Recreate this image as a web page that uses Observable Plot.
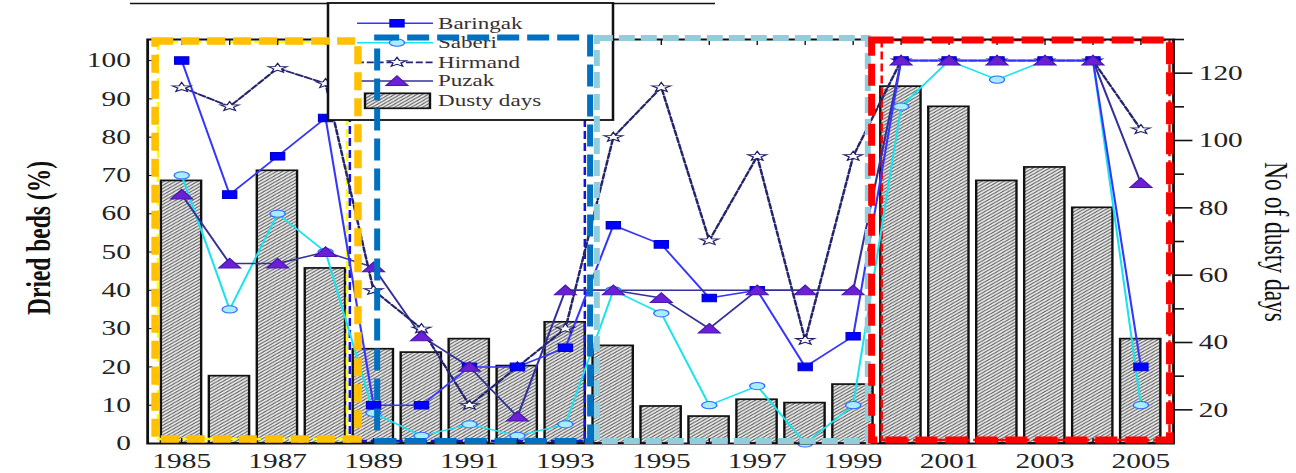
<!DOCTYPE html>
<html><head><meta charset="utf-8">
<script src="https://cdn.jsdelivr.net/npm/d3@7"></script>
<script src="https://cdn.jsdelivr.net/npm/@observablehq/plot@0.6"></script>
<style>
html,body{margin:0;padding:0;background:#fff;overflow:hidden}
#chart{width:1296px;height:473px;}
</style></head><body><div id="chart"></div>
<script>
// ---------- data ----------
const years     = [1985,1986,1987,1988,1989,1990,1991,1992,1993,1994,1995,1996,1997,1998,1999,2000,2001,2002,2003,2004,2005];
const baringak  = [100,65,75,85,10,10,20,20,25,57,52,38,40,20,28,100,100,100,100,100,20];
const saberi    = [70,35,60,50,8,2,5,2,5,40,34,10,15,0,10,88,100,95,100,100,10];
const hirmand   = [93,88,98,94,40,30,10,20,30,80,93,53,75,27,75,100,100,100,100,100,82];
const puzak     = [65,47,47,50,46,28,20,7,40,40,38,30,40,40,40,100,100,100,100,100,68];
const dustyDays = [88,30,91,62,38,37,41,33,46,39,21,18,23,22,27.5,116,110,88,92,80,41];
const puzakLevelYears  = [1993,1999];
const puzakLevelValues = [40,40];
const xTickLabels     = [1985,1987,1989,1991,1993,1995,1997,1999,2001,2003,2005];
const leftTicks       = [0,10,20,30,40,50,60,70,80,90,100];
const rightTicks      = [20,40,60,80,100,120];
const rightMinorTicks = [30,50,70,90,110,130];
const seriesNames = ["Baringak","Saberi","Hirmand","Puzak","Dusty days"];
const leftLabel  = "Dried beds (%)";
const rightLabel = "No of dusty days";
// highlighted periods (years)
const periodNames  = ["yellowThin","blueThin","redThin","orange","blue","lightBlue","red"];
const periodStarts = [1984.52,1988.52,1999.61,1984.46,1989.09,1993.67,1999.40];
const periodEnds   = [1988.46,1993.42,2005.61,1988.69,1993.53,1999.32,2005.61];

// ---------- layout / style ----------
const W = 926, H = 473, K = 1296 / W;
const leftMax = 105.5, rightMin = 10, rightMax = 130;
const toLeft = r => (r - rightMin) * leftMax / (rightMax - rightMin);
const fromLeft = l => l * (rightMax - rightMin) / leftMax + rightMin;
const SERIF = "'Liberation Serif', 'Times New Roman', serif";

const periodStyle = {
  yellowThin: {stroke:"#ffff00", sw:2.5, dash:"8,4", t:3, b:4, thin:true},
  blueThin:   {stroke:"#1010e0", sw:2.5, dash:"8,4", t:3, b:2, thin:true},
  redThin:    {stroke:"#ff0000", sw:2.5, dash:"8,4", t:1, b:3, thin:true},
  orange:     {stroke:"#ffc000", sw:7.5, dash:"18,8", t:2, b:4},
  blue:       {stroke:"#0070c0", sw:6, dash:"22,8", t:-1.5, b:2},
  lightBlue:  {stroke:"#92cddc", sw:6, dash:"16,6", t:-1, b:2},
  red:        {stroke:"#ff0000", sw:7, dash:"22,8", t:1, b:3}
};

// custom (stretched) symbols
const wideSquare = {draw(c){ c.moveTo(-5,-3.8); c.lineTo(5,-3.8); c.lineTo(5,3.8); c.lineTo(-5,3.8); c.closePath(); }};
const ellipse = {draw(c){ const rx=5.4, ry=3.6, m=0.5523;
  c.moveTo(rx,0); c.bezierCurveTo(rx,ry*m,rx*m,ry,0,ry); c.bezierCurveTo(-rx*m,ry,-rx,ry*m,-rx,0);
  c.bezierCurveTo(-rx,-ry*m,-rx*m,-ry,0,-ry); c.bezierCurveTo(rx*m,-ry,rx,-ry*m,rx,0); c.closePath(); }};
const triangle = {draw(c){ c.moveTo(0,-5.2); c.lineTo(7.8,4.4); c.lineTo(-7.8,4.4); c.closePath(); }};
const star = {draw(c){ for (let i=0;i<10;i++){ const a=-Math.PI/2+i*Math.PI/5, r=i%2?0.42:1;
  const x=r*Math.cos(a)*7, y=r*Math.sin(a)*5; i?c.lineTo(x,y):c.moveTo(x,y);} c.closePath(); }};

const series = [
  {name:seriesNames[0], values:baringak, line:"#3535ff", lw:1.5, dash:null, sym:wideSquare, fill:"#0000ff", sstroke:"#0000d0"},
  {name:seriesNames[1], values:saberi,   line:"#18e4f0", lw:1.5, dash:null, sym:ellipse, fill:"#a8ecff", sstroke:"#2f6bff"},
  {name:seriesNames[2], values:hirmand,  line:"#25256e", lw:1.8, dash:"5,2", sym:star, fill:"#ffffff", sstroke:"#1e1e66"},
  {name:seriesNames[3], values:puzak,    line:"#33309a", lw:1.5, dash:null, sym:triangle, fill:"#6b1fd6", sstroke:"#4a18a8"}
];
const rows = s => years.map((y,i)=>({year:y, value:s.values[i]}));
const bars = years.map((y,i)=>({year:y, days:dustyDays[i]}));
const periods = periodNames.map((n,i)=>({name:n, start:periodStarts[i], end:periodEnds[i]}));
const levelRows = puzakLevelYears.map((y,i)=>({year:y, value:puzakLevelValues[i]}));

const lineMarks = [];
for (const s of [series[1], series[3], series[2], series[0]]) {
  lineMarks.push(Plot.line(rows(s), {x:"year", y:"value", stroke:s.line, strokeWidth:s.lw, strokeDasharray:s.dash}));
}
lineMarks.push(Plot.line(levelRows, {x:"year", y:"value", stroke:series[3].line, strokeWidth:1.5}));
const dotMarks = [];
for (const s of [series[1], series[2], series[0], series[3]]) {
  dotMarks.push(Plot.dot(rows(s), {x:"year", y:"value", symbol:s.sym, fill:s.fill, stroke:s.sstroke, strokeWidth:1}));
}
// one rect mark per highlighted period; strokeOpacity tags them for screen-space strokes
const periodMarks = thin => periods.filter(p => !!periodStyle[p.name].thin === thin).map(p => {
  const st = periodStyle[p.name];
  return Plot.rect([p], {x1:"start", x2:"end", fill:"none", stroke: st.stroke, strokeWidth: st.sw,
    strokeDasharray: st.dash, strokeOpacity: thin ? 0.998 : 0.999, insetTop: st.t, insetBottom: st.b});
});

const plot = Plot.plot({
  width: W, height: H,
  marginLeft: 105, marginRight: 88, marginTop: 39, marginBottom: 30,
  x: {domain: [1984.29, 2005.68]},
  y: {domain: [0, leftMax]},
  style: {fontFamily: SERIF, fontSize: "21px", color: "#222", background: "white"},
  marks: [
    Plot.rect(bars, {x1: d => d.year - 0.42, x2: d => d.year + 0.42, y1: 0, y2: d => toLeft(d.days),
      fill: "#9a9a9b", stroke: "#111", strokeWidth: 1.7}),
    ...periodMarks(true),
    ...lineMarks,
    ...dotMarks,
    Plot.frame({stroke:"#111", strokeWidth: 2}),
    Plot.axisX({anchor:"bottom", ticks: xTickLabels, tickSize: 0, tickPadding: 10, tickFormat: d => String(d), label: null, fill:"#222"}),
    Plot.axisX({anchor:"bottom", ticks: years, tickSize: -5, fill: "none", stroke: "#111", label: null}),
    Plot.axisX({anchor:"top", ticks: years, tickSize: -5, fill: "none", stroke: "#111", label: null}),
    Plot.axisY({anchor:"left", ticks: leftTicks, tickSize: 0, tickPadding: 12, label: null, fill:"#222"}),
    Plot.axisY({anchor:"left", ticks: leftTicks, tickSize: -4, fill: "none", stroke: "#111", label: null}),
    Plot.axisY({anchor:"right", ticks: rightTicks.map(toLeft), tickSize: 13, tickPadding: 5, strokeWidth: 1.6,
      tickFormat: d => String(Math.round(fromLeft(d))), label: null, fill:"#222", stroke:"#111"}),
    Plot.axisY({anchor:"right", ticks: rightMinorTicks.map(toLeft), tickSize: 7, strokeWidth: 1.6, fill: "none", stroke: "#111", label: null}),
    ...periodMarks(false)
  ]
});

// ---------- stretch the whole chart horizontally like the source image ----------
const svg = plot;
svg.setAttribute("viewBox", `0 0 ${W} ${H}`);
svg.setAttribute("width", 1296);
svg.setAttribute("height", 473);
svg.setAttribute("preserveAspectRatio", "none");
svg.style.maxWidth = "none"; svg.style.width = "1296px"; svg.style.height = "473px";

const S = d3.select(svg);
// hatch pattern for the dusty-day bars
const defs = S.insert("defs", ":first-child");
const pat = defs.append("pattern").attr("id","hatch").attr("patternUnits","userSpaceOnUse").attr("width",4).attr("height",3.2);
pat.append("rect").attr("width",4).attr("height",3.2).attr("fill","#ececec");
pat.append("path").attr("d","M-1,4 L5,-0.8 M-1,0.8 L1,-0.8 M3,4 L5,2.4").attr("stroke","#555").attr("stroke-width",0.85);
S.selectAll('g[fill="#9a9a9b"]').attr("fill","url(#hatch)");

// period boxes: strokes and dashes in screen space
S.selectAll('g[stroke-opacity="0.998"] rect, g[stroke-opacity="0.999"] rect').style("vector-effect","non-scaling-stroke");

// caption rule at top
S.append("line").attr("x1",130/K).attr("x2",715/K).attr("y1",3.5).attr("y2",3.5).attr("stroke","#111").attr("stroke-width",1.6);

// axis titles
S.append("text").attr("transform",`translate(${42/K},238) rotate(-90)`).attr("text-anchor","middle").attr("dominant-baseline","middle")
  .style("font-family",SERIF).style("font-size","23.5px").style("font-weight","bold").attr("fill","#111").text(leftLabel);
S.append("text").attr("transform",`translate(${1273/K},242) rotate(90)`).attr("text-anchor","middle").attr("dominant-baseline","middle")
  .style("font-family",SERIF).style("font-size","23.5px").attr("fill","#111").text(rightLabel);

// legend
const lg = S.append("g").style("font-family",SERIF).style("font-size","16.5px").attr("text-anchor","start");
lg.append("rect").attr("x",328/K).attr("y",3).attr("width",(613-328)/K).attr("height",117).attr("fill","white").attr("stroke","#111").attr("stroke-width",1.8);
const rowsY = [23.3, 42.7, 62.3, 81, 100.7];
series.forEach((s,i)=>{
  const y = rowsY[i];
  lg.append("line").attr("x1",357/K).attr("x2",433/K).attr("y1",y).attr("y2",y).attr("stroke",s.line).attr("stroke-width",s.lw).attr("stroke-dasharray",s.dash);
  lg.append("path").attr("d", d3.symbol(s.sym)()).attr("transform",`translate(${397/K},${y})`).attr("fill",s.fill).attr("stroke",s.sstroke);
  lg.append("text").attr("x",438/K).attr("y",y).attr("dy","0.33em").attr("fill","#3a3030").style("font-family",SERIF).text(s.name);
});
lg.append("rect").attr("x",365/K).attr("y",93.3).attr("width",65/K).attr("height",15).attr("fill","url(#hatch)").attr("stroke","#111").attr("stroke-width",1.7);
lg.append("text").attr("x",438/K).attr("y",rowsY[4]).attr("dy","0.33em").attr("fill","#3a3030").style("font-family",SERIF).text(seriesNames[4]);

// thick period boxes drawn above legend
S.selectAll('g[stroke-opacity="0.999"]').each(function(){ svg.appendChild(this); });

document.getElementById("chart").appendChild(svg);
</script></body></html>
